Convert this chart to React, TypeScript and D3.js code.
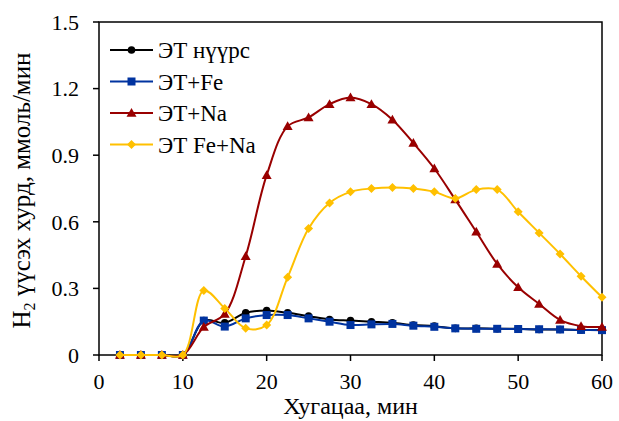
import React from "react";
import * as d3 from "d3";

const times = [2.5, 5, 7.5, 10, 12.5, 15, 17.5, 20, 22.5, 25, 27.5, 30, 32.5, 35, 37.5, 40, 42.5, 45, 47.5, 50, 52.5, 55, 57.5, 60];
const coal = [0, 0, 0, 0, 0.155, 0.145, 0.19, 0.2, 0.19, 0.175, 0.16, 0.155, 0.15, 0.145, 0.135, 0.13, 0.12, 0.12, 0.118, 0.118, 0.115, 0.115, 0.113, 0.113];
const fe = [0, 0, 0, 0, 0.155, 0.128, 0.165, 0.18, 0.18, 0.165, 0.15, 0.135, 0.138, 0.14, 0.132, 0.127, 0.12, 0.118, 0.118, 0.117, 0.116, 0.115, 0.113, 0.112];
const na = [0, 0, 0, 0, 0.126, 0.185, 0.445, 0.81, 1.03, 1.07, 1.13, 1.16, 1.13, 1.06, 0.955, 0.84, 0.7, 0.555, 0.41, 0.305, 0.23, 0.158, 0.13, 0.126];
const feNa = [0, 0, 0, 0, 0.29, 0.21, 0.12, 0.135, 0.35, 0.57, 0.685, 0.735, 0.75, 0.755, 0.75, 0.735, 0.705, 0.745, 0.745, 0.645, 0.55, 0.455, 0.355, 0.26];

const seriesNames = ["ЭТ нүүрс", "ЭТ+Fe", "ЭТ+Na", "ЭТ Fe+Na"];
const seriesColors = ["#000000", "#0033a0", "#990000", "#ffc000"];
const seriesMarkers = ["circle", "square", "triangle", "diamond"];
const xTicks = [0, 10, 20, 30, 40, 50, 60];
const yTicks = [0, 0.3, 0.6, 0.9, 1.2, 1.5];

const W = 619, H = 421;
const L = 99, R = 602, T = 22, B = 355;
const FONT = "'Liberation Serif', 'DejaVu Serif', 'Times New Roman', serif";

function Marker({ kind, x, y, color }: { kind: string; x: number; y: number; color: string }) {
  if (kind === "circle") return <circle cx={x} cy={y} r={3.8} fill={color} />;
  if (kind === "square") return <rect x={x - 4} y={y - 4} width={8} height={8} fill={color} />;
  if (kind === "triangle") {
    const s = 5;
    return <path d={`M${x},${y - s}L${x + s},${y + s * 0.75}L${x - s},${y + s * 0.75}Z`} fill={color} />;
  }
  const s = 4.5;
  return <path d={`M${x},${y - s}L${x + s},${y}L${x},${y + s}L${x - s},${y}Z`} fill={color} />;
}

export default function App() {
  const x = d3.scaleLinear().domain([0, 60]).range([L, R]);
  const y = d3.scaleLinear().domain([0, 1.5]).range([B, T]);
  const all = [coal, fe, na, feNa];
  const line = d3
    .line<number>()
    .x((_, i) => x(times[i]))
    .y((d) => y(d))
    .curve(d3.curveCatmullRom.alpha(0.5));

  return (
    <svg width={W} height={H} style={{ position: "absolute", left: 0, top: 0, background: "#fff" }} fontFamily={FONT}>
      <rect x={0} y={0} width={W} height={H} fill="#fff" />
      <rect x={L} y={T} width={R - L} height={B - T} fill="none" stroke="#000" strokeWidth={1.5} />
      {yTicks.map((t) => (
        <g key={"y" + t}>
          <line x1={L - 6} x2={L} y1={y(t)} y2={y(t)} stroke="#000" strokeWidth={1.5} />
          <text x={79} y={y(t)} dy="0.35em" textAnchor="end" fontSize={22}>
            {t === 0 ? "0" : t.toFixed(1)}
          </text>
        </g>
      ))}
      {xTicks.map((t) => (
        <g key={"x" + t}>
          <line x1={x(t)} x2={x(t)} y1={B} y2={B + 6} stroke="#000" strokeWidth={1.5} />
          <text x={x(t)} y={389} textAnchor="middle" fontSize={22}>
            {t}
          </text>
        </g>
      ))}
      <text x={(L + R) / 2} y={414} textAnchor="middle" fontSize={24}>
        Хугацаа, мин
      </text>
      <text transform={`translate(30,${(T + B) / 2 + 2}) rotate(-90)`} textAnchor="middle" fontSize={25}>
        H<tspan fontSize={16} dy={5}>2</tspan>
        <tspan dy={-5}> үүсэх хурд, ммоль/мин</tspan>
      </text>
      {all.map((s, k) => (
        <g key={"s" + k}>
          <path d={line(s) || ""} fill="none" stroke={seriesColors[k]} strokeWidth={2} />
          {s.map((v, i) => (
            <Marker key={i} kind={seriesMarkers[k]} x={x(times[i])} y={y(v)} color={seriesColors[k]} />
          ))}
        </g>
      ))}
      {seriesNames.map((n, k) => {
        const ly = 50 + k * 31.5;
        return (
          <g key={"l" + k}>
            <line x1={110} x2={153} y1={ly} y2={ly} stroke={seriesColors[k]} strokeWidth={2} />
            <Marker kind={seriesMarkers[k]} x={131.5} y={ly} color={seriesColors[k]} />
            <text x={158} y={ly} dy="0.35em" fontSize={23}>
              {n}
            </text>
          </g>
        );
      })}
    </svg>
  );
}
